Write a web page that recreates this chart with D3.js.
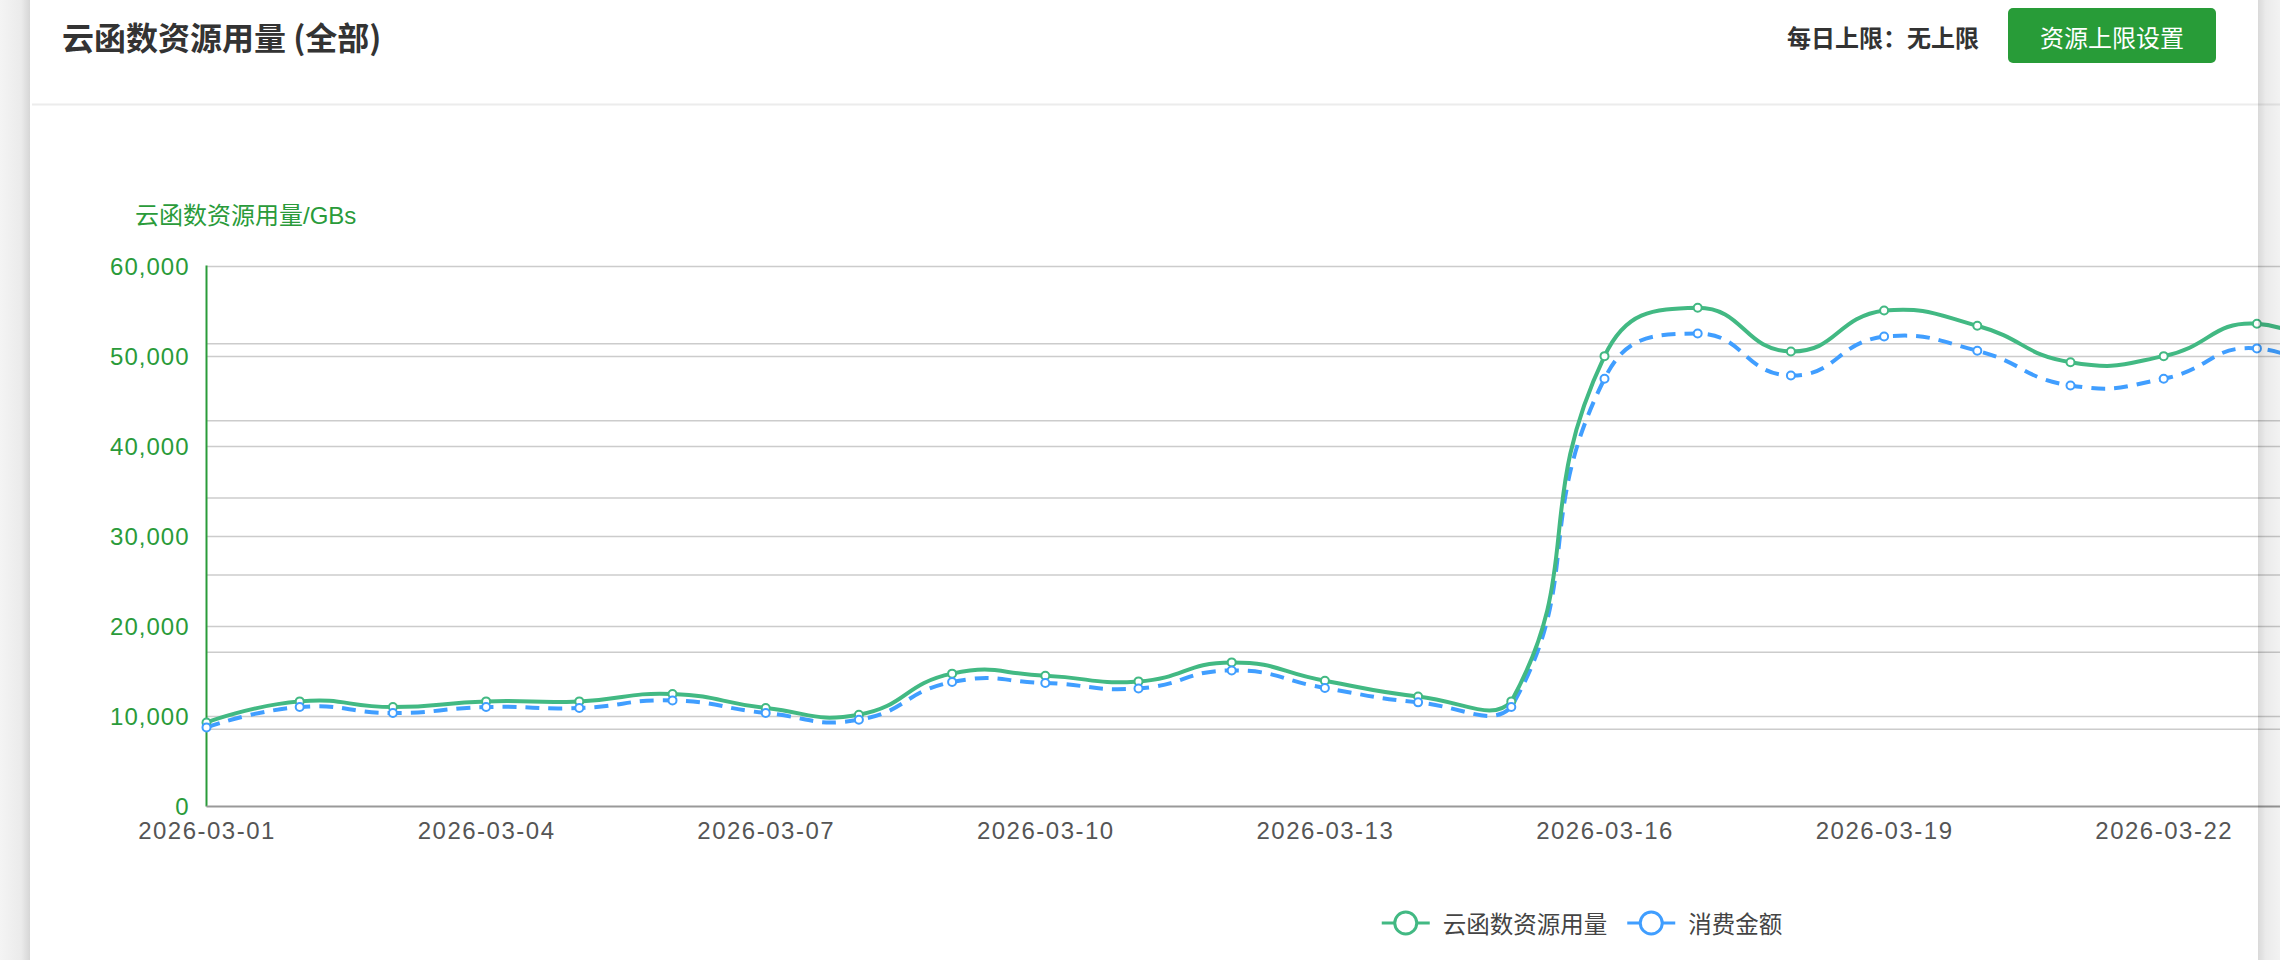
<!DOCTYPE html>
<html>
<head>
<meta charset="utf-8">
<script src="https://cdn.jsdelivr.net/npm/d3@7"></script>
<style>
  html, body { margin: 0; padding: 0; background: #fff; overflow: hidden; }
  svg { display: block; }
</style>
</head>
<body>
<svg id="chart" width="2280" height="960"></svg>
<script>
// ---------------- data ----------------
const dates = [
  "2026-03-01","2026-03-02","2026-03-03","2026-03-04","2026-03-05","2026-03-06",
  "2026-03-07","2026-03-08","2026-03-09","2026-03-10","2026-03-11","2026-03-12",
  "2026-03-13","2026-03-14","2026-03-15","2026-03-16","2026-03-17","2026-03-18",
  "2026-03-19","2026-03-20","2026-03-21","2026-03-22","2026-03-23","2026-03-24"
];
const usage = [9340, 11680, 11050, 11680, 11680, 12500, 10940, 10200, 14760, 14530, 13900, 16010,
               13980, 12230, 11680, 50040, 55420, 50560, 55120, 53420, 49370, 50040, 53640, 48800];
const cost  = [8790, 11050, 10390, 11050, 10940, 11790, 10390, 9640, 13830, 13720, 13120, 15120,
               13170, 11570, 11050, 47530, 52560, 47890, 52230, 50640, 46780, 47530, 50900, 46000];
const seriesNames = ["云函数资源用量", "消费金额"];
const yTicks = [0, 10000, 20000, 30000, 40000, 50000, 60000];
const secondaryTicks = [0, 1000, 2000, 3000, 4000, 5000, 6000, 7000];
const xLabelEvery = 3;
const titleText = "云函数资源用量 (全部)";
const limitText = "每日上限：无上限";
const buttonText = "资源上限设置";
const yAxisName = "云函数资源用量/GBs";

// ---------------- styles ----------------
const GREEN_AXIS = "#2a9b3a";
const LINE_GREEN = "#42b983";
const LINE_BLUE = "#409eff";
const W = 2280, H = 960;
const plot = { left: 206.5, top: 266.5, bottom: 806.5, step: 93.2 };
const numFont = "'Liberation Sans', Arial, 'Noto Sans CJK SC', sans-serif";
const cjkFont = "'Noto Sans CJK SC', 'Liberation Sans', sans-serif";

const svg = d3.select("#chart");

// page background / card
const defs = svg.append("defs");
const lg = defs.append("linearGradient").attr("id", "leftShadow").attr("x1", 0).attr("x2", 1).attr("y1", 0).attr("y2", 0);
lg.append("stop").attr("offset", "0%").attr("stop-color", "#f4f4f4");
lg.append("stop").attr("offset", "70%").attr("stop-color", "#ebebeb");
lg.append("stop").attr("offset", "100%").attr("stop-color", "#d6d6d6");
const rg = defs.append("linearGradient").attr("id", "rightShadow").attr("x1", 0).attr("x2", 1).attr("y1", 0).attr("y2", 0);
rg.append("stop").attr("offset", "0%").attr("stop-color", "rgb(0,0,0)").attr("stop-opacity", 0.15);
rg.append("stop").attr("offset", "35%").attr("stop-color", "rgb(0,0,0)").attr("stop-opacity", 0.08);
rg.append("stop").attr("offset", "100%").attr("stop-color", "rgb(0,0,0)").attr("stop-opacity", 0.05);

svg.append("rect").attr("x", 0).attr("y", 0).attr("width", W).attr("height", H).attr("fill", "#fff");
svg.append("rect").attr("x", 0).attr("y", 0).attr("width", 30).attr("height", H).attr("fill", "url(#leftShadow)");

// header
svg.append("text").attr("x", 62).attr("y", 36).attr("dominant-baseline", "central")
  .attr("font-family", cjkFont).attr("font-size", 32).attr("font-weight", 700).attr("fill", "#333")
  .text(titleText);
svg.append("text").attr("x", 1787).attr("y", 36).attr("dominant-baseline", "central")
  .attr("font-family", cjkFont).attr("font-size", 24).attr("font-weight", 700).attr("fill", "#333")
  .text(limitText);
svg.append("rect").attr("x", 2008).attr("y", 8).attr("width", 208).attr("height", 55).attr("rx", 5)
  .attr("fill", "#289c38");
svg.append("text").attr("x", 2112).attr("y", 36).attr("dominant-baseline", "central").attr("text-anchor", "middle")
  .attr("font-family", cjkFont).attr("font-size", 24).attr("fill", "#fff")
  .text(buttonText);
svg.append("rect").attr("x", 32).attr("y", 103.5).attr("width", W - 32).attr("height", 2).attr("fill", "#ececec");

// ---------------- scales ----------------
const x = d3.scalePoint().domain(dates).range([plot.left, plot.left + plot.step * (dates.length - 1)]);
const y = d3.scaleLinear().domain([0, 60000]).range([plot.bottom, plot.top]);
const y2 = d3.scaleLinear().domain([0, 7000]).range([plot.bottom, plot.top]);

// grid
const g = svg.append("g");
g.selectAll("line.grid").data(yTicks.filter(d => d > 0)).join("line")
  .attr("x1", plot.left).attr("x2", W).attr("y1", d => y(d)).attr("y2", d => y(d))
  .attr("stroke", "#cccccc").attr("stroke-width", 1.5);
g.selectAll("line.grid2").data(secondaryTicks.filter(d => d > 0 && d < 7000)).join("line")
  .attr("x1", plot.left).attr("x2", W).attr("y1", d => y2(d)).attr("y2", d => y2(d))
  .attr("stroke", "#cccccc").attr("stroke-width", 1.5);

// y axis
const yAxis = d3.axisLeft(y).tickValues(yTicks).tickFormat(d3.format(",")).tickSize(0).tickPadding(17);
const yg = svg.append("g").attr("transform", `translate(${plot.left},0)`).call(yAxis);
yg.select(".domain").remove();
yg.selectAll("text").attr("font-family", numFont).attr("font-size", 24).attr("fill", GREEN_AXIS)
  .attr("letter-spacing", "1px").attr("dy", "0.34em");
svg.append("line").attr("x1", plot.left).attr("x2", plot.left).attr("y1", plot.top - 1).attr("y2", plot.bottom)
  .attr("stroke", GREEN_AXIS).attr("stroke-width", 2);

// y axis name
svg.append("text").attr("x", 135).attr("y", 215).attr("dominant-baseline", "central")
  .attr("font-family", numFont).attr("font-size", 24).attr("fill", GREEN_AXIS)
  .text(yAxisName);

// x axis
const xAxis = d3.axisBottom(x).tickValues(dates.filter((d, i) => i % xLabelEvery === 0)).tickSize(0).tickPadding(14);
const xg = svg.append("g").attr("transform", `translate(0,${plot.bottom})`).call(xAxis);
xg.select(".domain").remove();
xg.selectAll("text").attr("font-family", numFont).attr("font-size", 24).attr("fill", "#555")
  .attr("letter-spacing", "1.5px").attr("dy", "0.75em");
svg.append("line").attr("x1", plot.left).attr("x2", W).attr("y1", plot.bottom).attr("y2", plot.bottom)
  .attr("stroke", "#999").attr("stroke-width", 2);

// ---------------- smooth line (ECharts-style bezier) ----------------
function smoothPath(pts, smooth) {
  const p = d3.path();
  const minX = d3.min(pts, d => d[0]), maxX = d3.max(pts, d => d[0]);
  const minY = d3.min(pts, d => d[1]), maxY = d3.max(pts, d => d[1]);
  const clamp = (c) => [Math.max(minX, Math.min(maxX, c[0])), Math.max(minY, Math.min(maxY, c[1]))];
  let cp0 = null;
  for (let i = 0; i < pts.length; i++) {
    const pt = pts[i];
    if (i === 0) { p.moveTo(pt[0], pt[1]); cp0 = [pt[0], pt[1]]; continue; }
    const prev = pts[i - 1], next = pts[i + 1];
    let cp1, v = [0, 0], ratio = 0.5;
    if (!next) {
      cp1 = [pt[0], pt[1]];
    } else {
      v = [next[0] - prev[0], next[1] - prev[1]];
      const lp = Math.hypot(pt[0] - prev[0], pt[1] - prev[1]);
      const ln = Math.hypot(next[0] - pt[0], next[1] - pt[1]);
      ratio = ln / (ln + lp);
      cp1 = [pt[0] - v[0] * smooth * (1 - ratio), pt[1] - v[1] * smooth * (1 - ratio)];
    }
    cp0 = clamp(cp0); cp1 = clamp(cp1);
    p.bezierCurveTo(cp0[0], cp0[1], cp1[0], cp1[1], pt[0], pt[1]);
    cp0 = [pt[0] + v[0] * smooth * ratio, pt[1] + v[1] * smooth * ratio];
  }
  return p.toString();
}

const series = [
  { name: seriesNames[0], values: usage, color: LINE_GREEN, dash: null },
  { name: seriesNames[1], values: cost, color: LINE_BLUE, dash: "14,9" }
];

const lines = svg.append("g");
series.slice().reverse().forEach(s => {
  const pts = s.values.map((v, i) => [x(dates[i]), y(v)]);
  lines.append("path").attr("d", smoothPath(pts, 0.5)).attr("fill", "none")
    .attr("stroke", s.color).attr("stroke-width", 4)
    .attr("stroke-dasharray", s.dash);
});
series.forEach(s => {
  lines.append("g").selectAll("circle").data(s.values).join("circle")
    .attr("cx", (d, i) => x(dates[i])).attr("cy", d => y(d)).attr("r", 4)
    .attr("fill", "#fff").attr("stroke", s.color).attr("stroke-width", 2);
});

// right shadow overlay
svg.append("rect").attr("x", 2258).attr("y", 0).attr("width", 22).attr("height", H).attr("fill", "url(#rightShadow)");

// ---------------- legend ----------------
const legend = svg.append("g");
const items = [];
series.forEach(s => {
  const it = legend.append("g");
  it.append("line").attr("x1", 0).attr("x2", 48).attr("y1", 0).attr("y2", 0)
    .attr("stroke", s.color).attr("stroke-width", 3);
  it.append("circle").attr("cx", 24).attr("cy", 0).attr("r", 11).attr("fill", "#fff")
    .attr("stroke", s.color).attr("stroke-width", 3);
  const t = it.append("text").attr("x", 61).attr("y", 0).attr("dominant-baseline", "central")
    .attr("font-family", cjkFont).attr("font-size", 23.5).attr("fill", "#444").text(s.name);
  items.push({ g: it, w: 61 + t.node().getComputedTextLength() });
});
const gap = 20;
const totalW = d3.sum(items, d => d.w) + gap * (items.length - 1);
let lx = 1582 - totalW / 2;
items.forEach(it => { it.g.attr("transform", `translate(${lx},923)`); lx += it.w + gap; });
</script>
</body>
</html>
